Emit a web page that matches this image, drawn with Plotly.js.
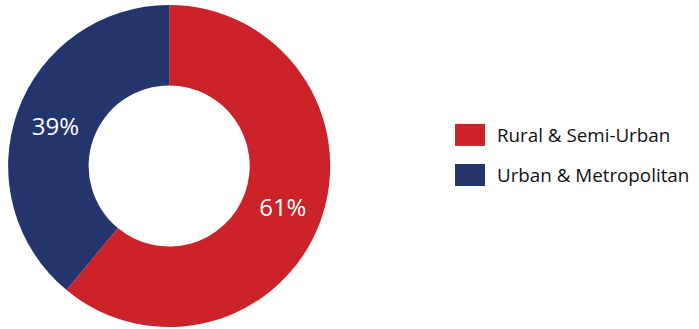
<!DOCTYPE html>
<html>
<head>
<meta charset="utf-8">
<script src="https://cdn.plot.ly/plotly-3.0.1.min.js"></script>
<style>html,body{margin:0;padding:0;background:#fff;}#chart{width:699px;height:329px;}</style>
</head>
<body>
<div id="chart"></div>
<script>
const categories = ["Rural & Semi-Urban", "Urban & Metropolitan"];
const values = [61, 39];
const colors = ["#CC2229", "#24356E"];

const trace = {
  type: "pie",
  labels: categories,
  values: values,
  hole: 0.5,
  sort: false,
  direction: "clockwise",
  rotation: 0,
  marker: { colors: colors, line: { width: 0 } },
  textinfo: "percent",
  texttemplate: "%{percent:.0%}",
  textposition: "inside",
  insidetextorientation: "horizontal",
  textfont: { color: "#ffffff", size: 24, family: "Open Sans, sans-serif" },
  hoverinfo: "label+percent",
  domain: { x: [0.01, 0.474], y: [0.006, 0.985] },
  showlegend: false
};

const shapes = [];
const annotations = [];
const legendY = [0.590, 0.468];
categories.forEach((c, i) => {
  shapes.push({
    type: "rect", xref: "paper", yref: "paper",
    x0: 455/699, x1: 485/699,
    y0: legendY[i] - 11/329, y1: legendY[i] + 11/329,
    fillcolor: colors[i], line: { width: 0 }
  });
  annotations.push({
    xref: "paper", yref: "paper", x: 495/699, y: legendY[i],
    xanchor: "left", yanchor: "middle", showarrow: false,
    text: c, font: { size: 18.8, color: "#111111", family: "Open Sans, sans-serif" }
  });
});

const layout = {
  width: 699, height: 329,
  margin: { l: 0, r: 0, t: 0, b: 0 },
  paper_bgcolor: "#ffffff", plot_bgcolor: "#ffffff",
  showlegend: false,
  shapes: shapes,
  annotations: annotations
};

Plotly.newPlot("chart", [trace], layout, { displayModeBar: false, staticPlot: true });
</script>
</body>
</html>
